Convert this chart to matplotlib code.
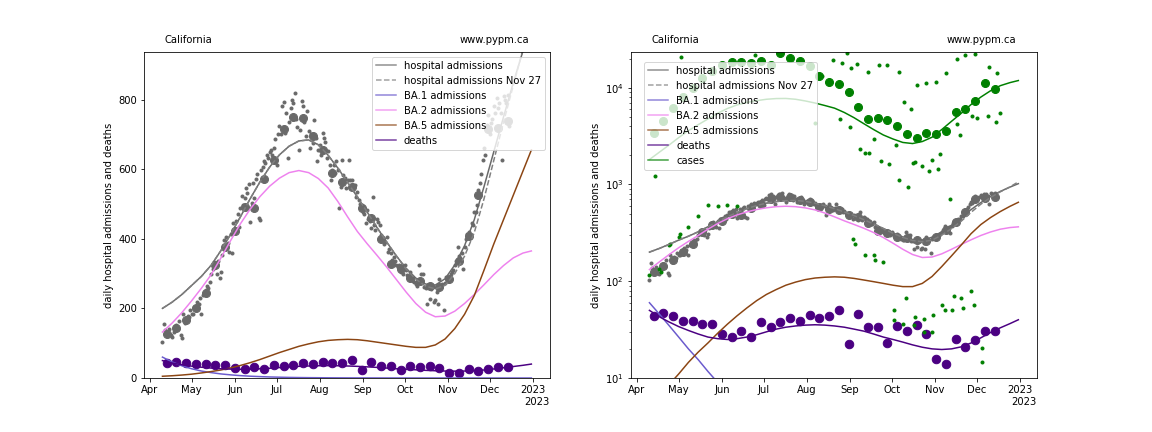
import numpy as np
import matplotlib
matplotlib.use("Agg")
import matplotlib.pyplot as plt
import matplotlib.dates as mdates

# all dates are day offsets from 2022-04-01
start = np.datetime64('2022-04-01')

# model curves, sampled weekly from Apr 10 to Dec 31
curve_days = [9, 16, 23, 30, 37, 44, 51, 58, 65, 72, 79, 86, 93, 100, 107, 114, 121, 128, 135,
              142, 149, 156, 163, 170, 177, 184, 191, 198, 205, 212, 219, 226, 233, 240, 247,
              254, 261, 268, 274]
hosp_fit = [200, 218, 240, 266, 292, 324, 366, 413, 463, 515, 563, 606, 641, 666, 681, 684, 670,
            640, 603, 562, 520, 477, 433, 391, 351, 315, 287, 270, 267, 285, 325, 380, 455, 550,
            650, 750, 848, 940, 1020]
hosp_nov27 = [200, 218, 240, 266, 292, 324, 366, 413, 463, 515, 563, 606, 641, 666, 681, 684, 670,
              640, 603, 562, 520, 477, 433, 391, 351, 313, 284, 264, 256, 266, 300, 350, 418, 515,
              625, 735, 840, 945, 1065]
ba1_fit = [60, 46, 35, 26.5, 20, 15.5, 11.7, 9, 6.8, 5.2, 4, 3, 2.3, 1.7, 1.3, 1, 0.8, 0.6, 0.45,
           0.35, 0.27, 0.2, 0.16, 0.12, 0.09, 0.07, 0.05, 0.04, 0.03, 0.025, 0.02, 0.015, 0.012,
           0.009, 0.007, 0.005, 0.004, 0.003, 0.0025]
ba2_fit = [132, 158, 188, 222, 258, 297, 345, 395, 443, 485, 521, 551, 574, 590, 596, 590, 573,
           546, 507, 463, 421, 386, 353, 319, 283, 247, 214, 189, 176, 178, 192, 214, 240, 268,
           297, 323, 345, 359, 365]
ba5_fit = [5, 6.5, 8.5, 11, 14.5, 18.5, 23, 29, 36, 44, 53, 63, 73, 82, 91, 98, 104, 108, 110,
           111, 110, 107, 103, 99, 95, 91, 88, 88, 95, 112, 142, 183, 237, 310, 385, 455, 525,
           595, 655]
deaths_fit = [50, 43, 38, 34, 31, 28.5, 26.5, 25.5, 25, 25.5, 26.5, 28, 30, 32, 33.5, 34.5, 35.2,
              35.5, 35.2, 34.5, 33.5, 32, 30.5, 28.5, 26.5, 25, 23.5, 22, 20.8, 20, 19.7, 20, 21,
              23, 26, 29.5, 33, 36.5, 40]
cases_fit = [1810, 2150, 2550, 3050, 3600, 4150, 4750, 5450, 6100, 6650, 7050, 7350, 7600, 7730,
             7750, 7600, 7300, 6950, 6550, 6150, 5550, 4900, 4250, 3700, 3250, 2950, 2720, 2650,
             2780, 3080, 3700, 4500, 5450, 6700, 8000, 9300, 10500, 11300, 11870]

# daily hospital admissions, Apr 10 .. Dec 16
hosp_first_day = 9
hosp_daily = [102, 154, 138, 127, 126, 142, 123, 118, 131, 148, 152, 140, 164, 123, 116, 185, 158,
              170, 178, 174, 196, 185, 185, 205, 198, 219, 212, 229, 185, 238, 243, 252, 264, 258,
              276, 300, 312, 334, 318, 300, 335, 286, 305, 352, 397, 372, 405, 388, 363, 415, 358,
              445, 428, 450, 472, 435, 488, 523, 498, 517, 545, 531, 556, 449, 504, 560, 517, 572,
              585, 459, 454, 598, 605, 622, 618, 641, 632, 648, 655, 640, 661, 688, 613, 702, 725,
              700, 781, 792, 705, 762, 632, 735, 776, 798, 791, 819, 745, 721, 656, 712, 795, 782,
              735, 695, 766, 709, 660, 702, 675, 742, 690, 622, 655, 670, 640, 704, 690, 677, 632,
              651, 612, 569, 598, 613, 590, 622, 598, 488, 550, 626, 583, 575, 546, 568, 626, 569,
              568, 555, 554, 520, 535, 511, 501, 498, 477, 470, 444, 482, 458, 452, 430, 520, 440,
              425, 458, 448, 439, 410, 402, 386, 392, 405, 362, 372, 358, 340, 348, 335, 324, 318,
              324, 305, 324, 300, 324, 310, 295, 290, 305, 285, 280, 276, 270, 265, 324, 272, 300,
              300, 262, 258, 213, 268, 228, 255, 262, 218, 223, 248, 213, 285, 261, 270, 194, 272,
              290, 280, 285, 300, 304, 310, 324, 335, 376, 350, 345, 360, 314, 376, 400, 415, 420,
              405, 445, 439, 477, 477, 498, 540, 560, 585, 626, 660, 640, 727, 755, 700, 732, 745,
              780, 760, 805, 775, 790, 760, 626, 810, 800, 790, 814, 723]

# weekly points (large markers), Apr 13 .. Dec 14
week_first_day = 12
hosp_weekly = [126, 145, 167, 202, 243, 324, 377, 423, 491, 488, 572, 627, 714, 750, 746, 696,
               656, 589, 562, 549, 489, 460, 398, 327, 312, 287, 278, 264, 260, 285, 336, 408, 525,
               716, 719, 739]
deaths_weekly = [44, 47, 44, 39, 39, 36.5, 36, 28.4, 26.8, 30.9, 26.8, 38.3, 34, 38.3, 42, 39.2,
                 45, 42, 44, 50.8, 22.3, 46, 33.5, 34, 23.2, 34.8, 30.9, 35.5, 28.2, 15.8, 14.1,
                 25.5, 20.7, 24.9, 30.3, 30.3]
cases_weekly = [3400, 4500, 6200, 8000, 10000, 12500, 15000, 17000, 18400, 18400, 18150, 18900,
                17000, 22700, 20400, 18900, 16750, 13200, 11400, 11000, 9000, 6350, 4800, 4900,
                4660, 4070, 3340, 3040, 3420, 3340, 3610, 5590, 5960, 7270, 11270, 9760]

# daily reported cases (irregular days)
cases_days = [9, 13, 16, 17, 23, 24, 30, 31, 32, 37, 44, 51, 58, 65, 72, 85, 128, 133, 141, 146,
              147, 151, 153, 154, 155, 157, 158, 160, 164, 164, 166, 167, 170, 170, 171, 174, 175,
              177, 180, 181, 185, 185, 186, 188, 188, 191, 192, 193, 195, 197, 198, 199, 200, 200,
              201, 205, 206, 206, 208, 210, 212, 212, 213, 215, 216, 218, 219, 221, 222, 225, 226,
              228, 230, 230, 232, 233, 234, 236, 240, 241, 242, 243, 244, 248, 248, 252, 253, 258,
              259, 261]
cases_daily = [117, 1220, 135, 125, 236, 245, 287, 310, 20970, 360, 476, 610, 605, 615, 595,
               21630, 4340, 13200, 19300, 4770, 17850, 23000, 3950, 16100, 272, 242, 17700, 2330,
               2120, 186, 14600, 2120, 2960, 186, 165, 17000, 1730, 158, 17000, 1610, 51, 39.5,
               2580, 14650, 1120, 36.4, 7100, 67, 935, 5960, 1670, 35, 42.6, 1690, 10800, 1540, 30,
               41, 11270, 1370, 1780, 30, 45, 11500, 1450, 2070, 56.5, 50, 14300, 710, 51, 70,
               19600, 4170, 3280, 67, 53, 21600, 79, 5100, 56.5, 22100, 4900, 14.8, 20.5, 5100,
               16500, 4400, 14100, 5430]


def to_dates(days):
    return start + np.asarray(days).astype('timedelta64[D]')


fit_dates = to_dates(curve_days)
hosp_dates = to_dates(np.arange(len(hosp_daily)) + hosp_first_day)
week_dates = to_dates(np.arange(len(hosp_weekly)) * 7 + week_first_day)

fig, axes = plt.subplots(1, 2, figsize=(16, 6), dpi=72)
fig.subplots_adjust(bottom=0.125, top=0.88)

for i, ax in enumerate(axes):
    log = i == 1
    ax.plot(hosp_dates, hosp_daily, 'o', color='dimgrey', ms=3, zorder=1)
    ax.plot(week_dates, hosp_weekly, 'o', color='dimgrey', ms=8, zorder=1)
    ax.plot(week_dates, deaths_weekly, 'o', color='indigo', ms=8.5, zorder=1)
    if log:
        ax.plot(to_dates(cases_days), cases_daily, 'o', color='green', ms=3, zorder=1)
        ax.plot(week_dates, cases_weekly, 'o', color='green', ms=8, zorder=1)

    ax.plot(fit_dates, hosp_fit, color='dimgrey', label='hospital admissions')
    ax.plot(fit_dates, hosp_nov27, color='grey', ls='--', label='hospital admissions Nov 27')
    ax.plot(fit_dates, ba1_fit, color='slateblue', label='BA.1 admissions')
    ax.plot(fit_dates, ba2_fit, color='violet', label='BA.2 admissions')
    ax.plot(fit_dates, ba5_fit, color='saddlebrown', label='BA.5 admissions')
    ax.plot(fit_dates, deaths_fit, color='indigo', label='deaths')
    if log:
        ax.plot(fit_dates, cases_fit, color='green', label='cases')

    ax.xaxis.set_major_locator(mdates.MonthLocator())
    ax.xaxis.set_major_formatter(mdates.ConciseDateFormatter(ax.xaxis.get_major_locator()))
    ax.text(1.0, -0.058, '2023', transform=ax.transAxes, ha='right', va='top')
    ax.set_ylabel('daily hospital admissions and deaths')
    ax.text(0.05, 1.02, 'California', transform=ax.transAxes, va='bottom')
    ax.text(0.95, 1.02, 'www.pypm.ca', transform=ax.transAxes, va='bottom', ha='right')

    if log:
        ax.set_yscale('log')
        ax.set_ylim(10, 23500)
        leg = ax.legend(loc='upper left', bbox_to_anchor=(0.02, 0.985))
    else:
        ax.set_ylim(0, 937)
        leg = ax.legend(loc='upper right')
    for line in leg.get_lines():
        line.set_alpha(0.75)

fig.savefig('out.png')
